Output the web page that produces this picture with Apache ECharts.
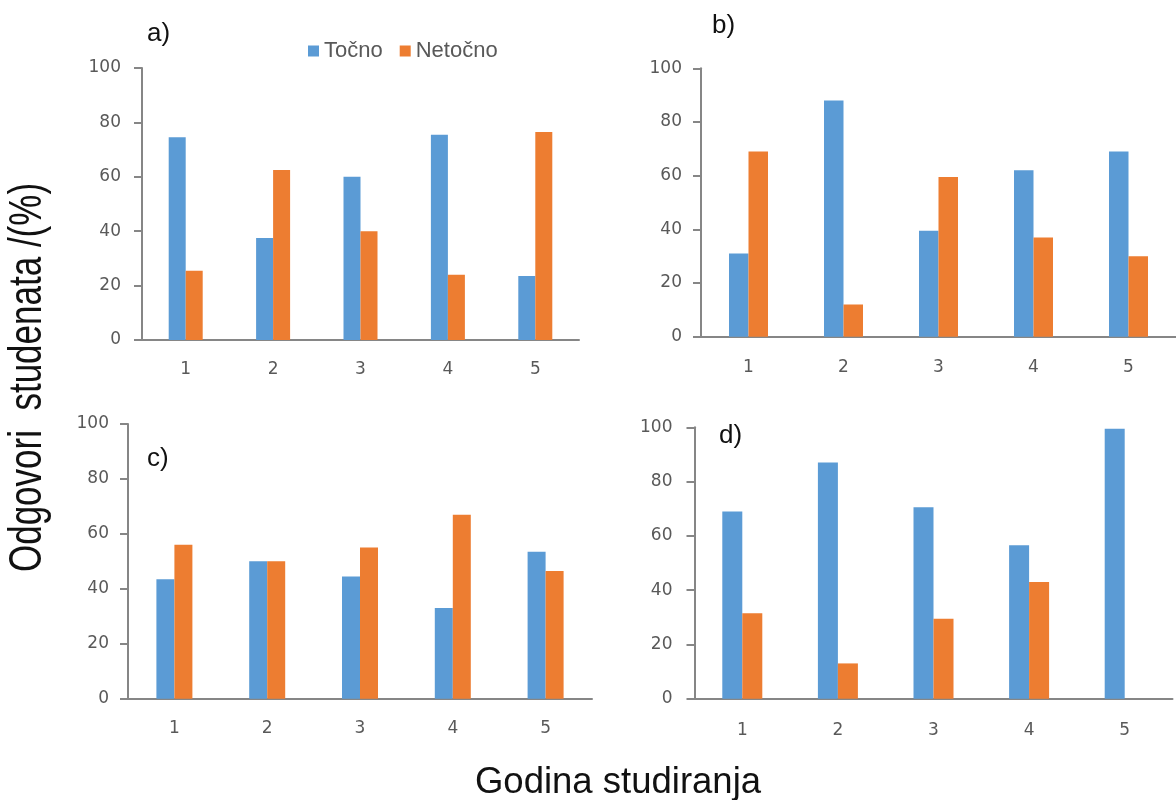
<!DOCTYPE html>
<html>
<head>
<meta charset="utf-8">
<script src="https://cdn.jsdelivr.net/npm/echarts@6/dist/echarts.min.js"></script>
<style>
html,body{margin:0;padding:0;background:#fff;}
#chart{width:1176px;height:800px;}
</style>
</head>
<body>
<div id="chart"></div>
<script>
// ---- data ----
var categories = ['1', '2', '3', '4', '5'];
var seriesNames = ['Točno', 'Netočno'];
var yTicks = [0, 20, 40, 60, 80, 100];

var aTocno   = [74.5, 37.5, 60, 75.5, 23.5];
var aNetocno = [25.5, 62.5, 40, 24, 76.5];

var bTocno   = [31, 88, 39.5, 62, 69];
var bNetocno = [69, 12, 59.5, 37, 30];

var cTocno   = [43.5, 50, 44.5, 33, 53.5];
var cNetocno = [56, 50, 55, 67, 46.5];

var dTocno   = [69, 87, 70.5, 56.5, 99.5];
var dNetocno = [31.5, 13, 29.5, 43, 0];

var panelLabels = ['a)', 'b)', 'c)', 'd)'];
var yTitle = 'Odgovori  studenata /(%)';
var xTitle = 'Godina studiranja';

// ---- layout ----
var panels = [
  {tocno: aTocno, netocno: aNetocno, left: 142, top: 68, width: 437, height: 272, barWidth: 17, xm: 21, ym: 21, lx: 147, ly: 34},
  {tocno: bTocno, netocno: bNetocno, left: 701, top: 68.3, width: 485, height: 268.4, barWidth: 19.5, xm: 22, ym: 19, lx: 712, ly: 26},
  {tocno: cTocno, netocno: cNetocno, left: 128, top: 424, width: 464, height: 274.7, barWidth: 18, xm: 21, ym: 19, lx: 147, ly: 459},
  {tocno: dTocno, netocno: dNetocno, left: 694.5, top: 427.3, width: 478, height: 271.4, barWidth: 20, xm: 23, ym: 22, lx: 719, ly: 436}
];

var colors = ['#5B9BD5', '#ED7D31'];
var axisColor = '#868686';
var labelColor = '#595959';
var tickFont = 'DejaVu Sans';

var grids = [], xAxes = [], yAxes = [], series = [], graphics = [];

panels.forEach(function (p, i) {
  grids.push({left: p.left, top: p.top, width: p.width, height: p.height, containLabel: false});
  xAxes.push({
    type: 'category', gridIndex: i, data: categories, boundaryGap: true,
    axisLine: {show: true, lineStyle: {color: axisColor, width: 2}},
    axisTick: {show: false},
    axisLabel: {color: labelColor, fontSize: 17, fontFamily: tickFont, margin: p.xm},
    splitLine: {show: false}
  });
  yAxes.push({
    type: 'value', gridIndex: i, min: yTicks[0], max: yTicks[yTicks.length - 1], interval: 20,
    axisLine: {show: true, lineStyle: {color: axisColor, width: 2}},
    axisTick: {show: true, length: 8, lineStyle: {color: axisColor, width: 2}},
    axisLabel: {color: labelColor, fontSize: 17, fontFamily: tickFont, margin: p.ym},
    splitLine: {show: false}
  });
  [p.tocno, p.netocno].forEach(function (vals, k) {
    series.push({
      name: seriesNames[k], type: 'bar', xAxisIndex: i, yAxisIndex: i,
      data: vals, barWidth: p.barWidth, barGap: '0%',
      itemStyle: {color: colors[k]}
    });
  });
  graphics.push({
    type: 'text', x: p.lx, y: p.ly,
    style: {text: panelLabels[i], fill: '#111', font: '26px "Liberation Sans", Arial, sans-serif',
      textAlign: 'left', textVerticalAlign: 'middle', align: 'left', verticalAlign: 'middle'}
  });
});

graphics.push({
  type: 'text', x: 28.5, y: 377.5, rotation: Math.PI / 2, scaleY: 1.3,
  style: {text: yTitle, fill: '#111', font: '35px "Liberation Sans", Arial, sans-serif',
    textAlign: 'center', textVerticalAlign: 'middle', align: 'center', verticalAlign: 'middle'}
});
graphics.push({
  type: 'text', x: 618, y: 783,
  style: {text: xTitle, fill: '#111', font: '36.5px "Liberation Sans", Arial, sans-serif',
    textAlign: 'center', textVerticalAlign: 'middle', align: 'center', verticalAlign: 'middle'}
});

var chart = echarts.init(document.getElementById('chart'), null, {renderer: 'canvas'});
chart.setOption({
  animation: false,
  backgroundColor: '#ffffff',
  legend: {
    data: seriesNames, left: 303, top: 35, itemWidth: 11, itemHeight: 11, itemGap: 17,
    icon: 'rect',
    textStyle: {color: labelColor, fontSize: 22, fontFamily: '"Liberation Sans", Arial, sans-serif'}
  },
  grid: grids,
  xAxis: xAxes,
  yAxis: yAxes,
  series: series,
  graphic: graphics
});
</script>
</body>
</html>
